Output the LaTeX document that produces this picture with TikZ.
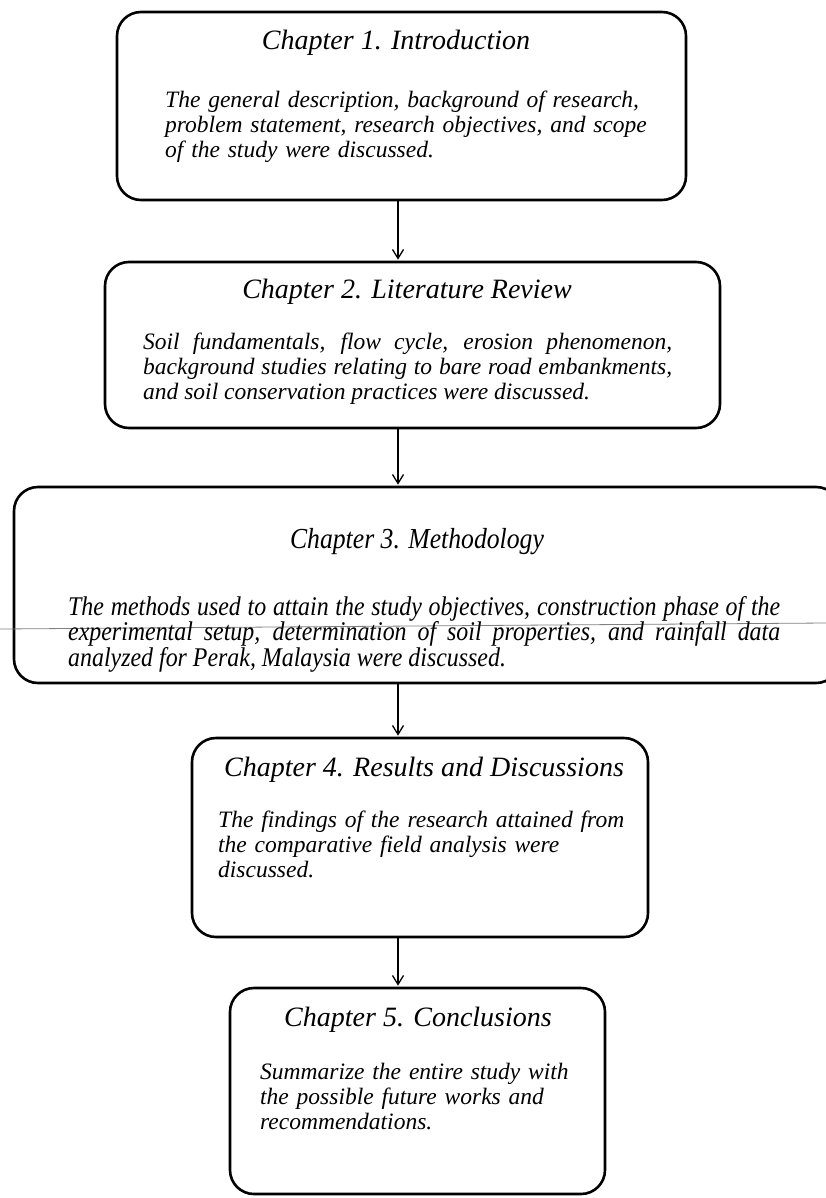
\documentclass[tikz,border=0pt]{standalone}
\usepackage{fontspec}
\setmainfont{Liberation Serif}
\newfontfamily\condserif{Liberation Serif}[FakeStretch=0.885]
\usetikzlibrary{arrows.meta}

\tikzset{
  chapbox/.style={draw, line width=2.6pt, rounded corners=24pt, inner sep=0pt},
  chaptitle/.style={anchor=base, inner sep=0pt, font=\fontsize{28}{32}\selectfont\itshape},
  chapbody/.style={anchor=north west, inner sep=0pt, font=\fontsize{23.5}{25}\selectfont\itshape},
  flow/.style={line width=1.3pt, shorten >=1pt, -{Straight Barb[length=9pt,width=11pt,line width=1.3pt]}}
}

\begin{document}
\begin{tikzpicture}[x=1pt, y=-1pt]
        \clip (0,0) rectangle (826,1198);
        \fill[white] (0,0) rectangle (826,1198);
        % the five chapter boxes
        \node[chapbox, minimum width=569pt, minimum height=188pt] (ch1) at (401.5,106) {};
        \node[chapbox, minimum width=615pt, minimum height=166pt] (ch2) at (412.5,345) {};
        \node[chapbox, minimum width=826pt, minimum height=196pt] (ch3) at (427,585) {};
        \node[chapbox, minimum width=456pt, minimum height=199pt] (ch4) at (420,837.5) {};
        \node[chapbox, minimum width=375pt, minimum height=206pt] (ch5) at (417.5,1091) {};
        % scan line across chapter 3
        \draw[gray, line width=0.8pt] (0,629) -- (826,623);
        % titles
        \node[chaptitle] (t1) at (396,50) {Chapter 1. Introduction};
        \node[chaptitle] (t2) at (407,298) {Chapter 2. Literature Review};
        \node[chaptitle, font=\fontsize{29}{34}\condserif\itshape] (t3) at (417,548) {Chapter 3. Methodology};
        \node[chaptitle] (t4) at (424,776) {Chapter 4. Results and Discussions};
        \node[chaptitle] (t5) at (418,1026) {Chapter 5. Conclusions};
        % texts
        \node[chapbody, text width=560pt, align=left] (b1) at (165,91)
          {The general description, background of research,\\ problem statement, research objectives, and scope\\ of the study were discussed.};
        \node[chapbody, text width=529pt, align=justify] (b2) at (143,333)
          {Soil fundamentals, flow cycle, erosion phenomenon,\linebreak background studies relating to bare road embankments,\linebreak and soil conservation practices were discussed.};
        \node[chapbody, text width=712pt, align=justify, font=\fontsize{27}{25.5}\condserif\itshape] (b3) at (68,596)
          {The methods used to attain the study objectives, construction phase of the\linebreak experimental setup, determination of soil properties, and rainfall data\linebreak analyzed for Perak, Malaysia were discussed.};
        \node[chapbody, text width=440pt, align=left] (b4) at (218,811)
          {The findings of the research attained from\\ the comparative field analysis were\\ discussed.};
        \node[chapbody, text width=340pt, align=left] (b5) at (260,1063)
          {Summarize the entire study with\\ the possible future works and\\ recommendations.};
        % arrows
        \coordinate (axis) at (398,0);
        \draw[flow] (axis |- ch1.south) -- (axis |- ch2.north);
        \draw[flow] (axis |- ch2.south) -- (axis |- ch3.north);
        \draw[flow] (axis |- ch3.south) -- (axis |- ch4.north);
        \draw[flow] (axis |- ch4.south) -- (axis |- ch5.north);
      \end{tikzpicture}
\end{document}
